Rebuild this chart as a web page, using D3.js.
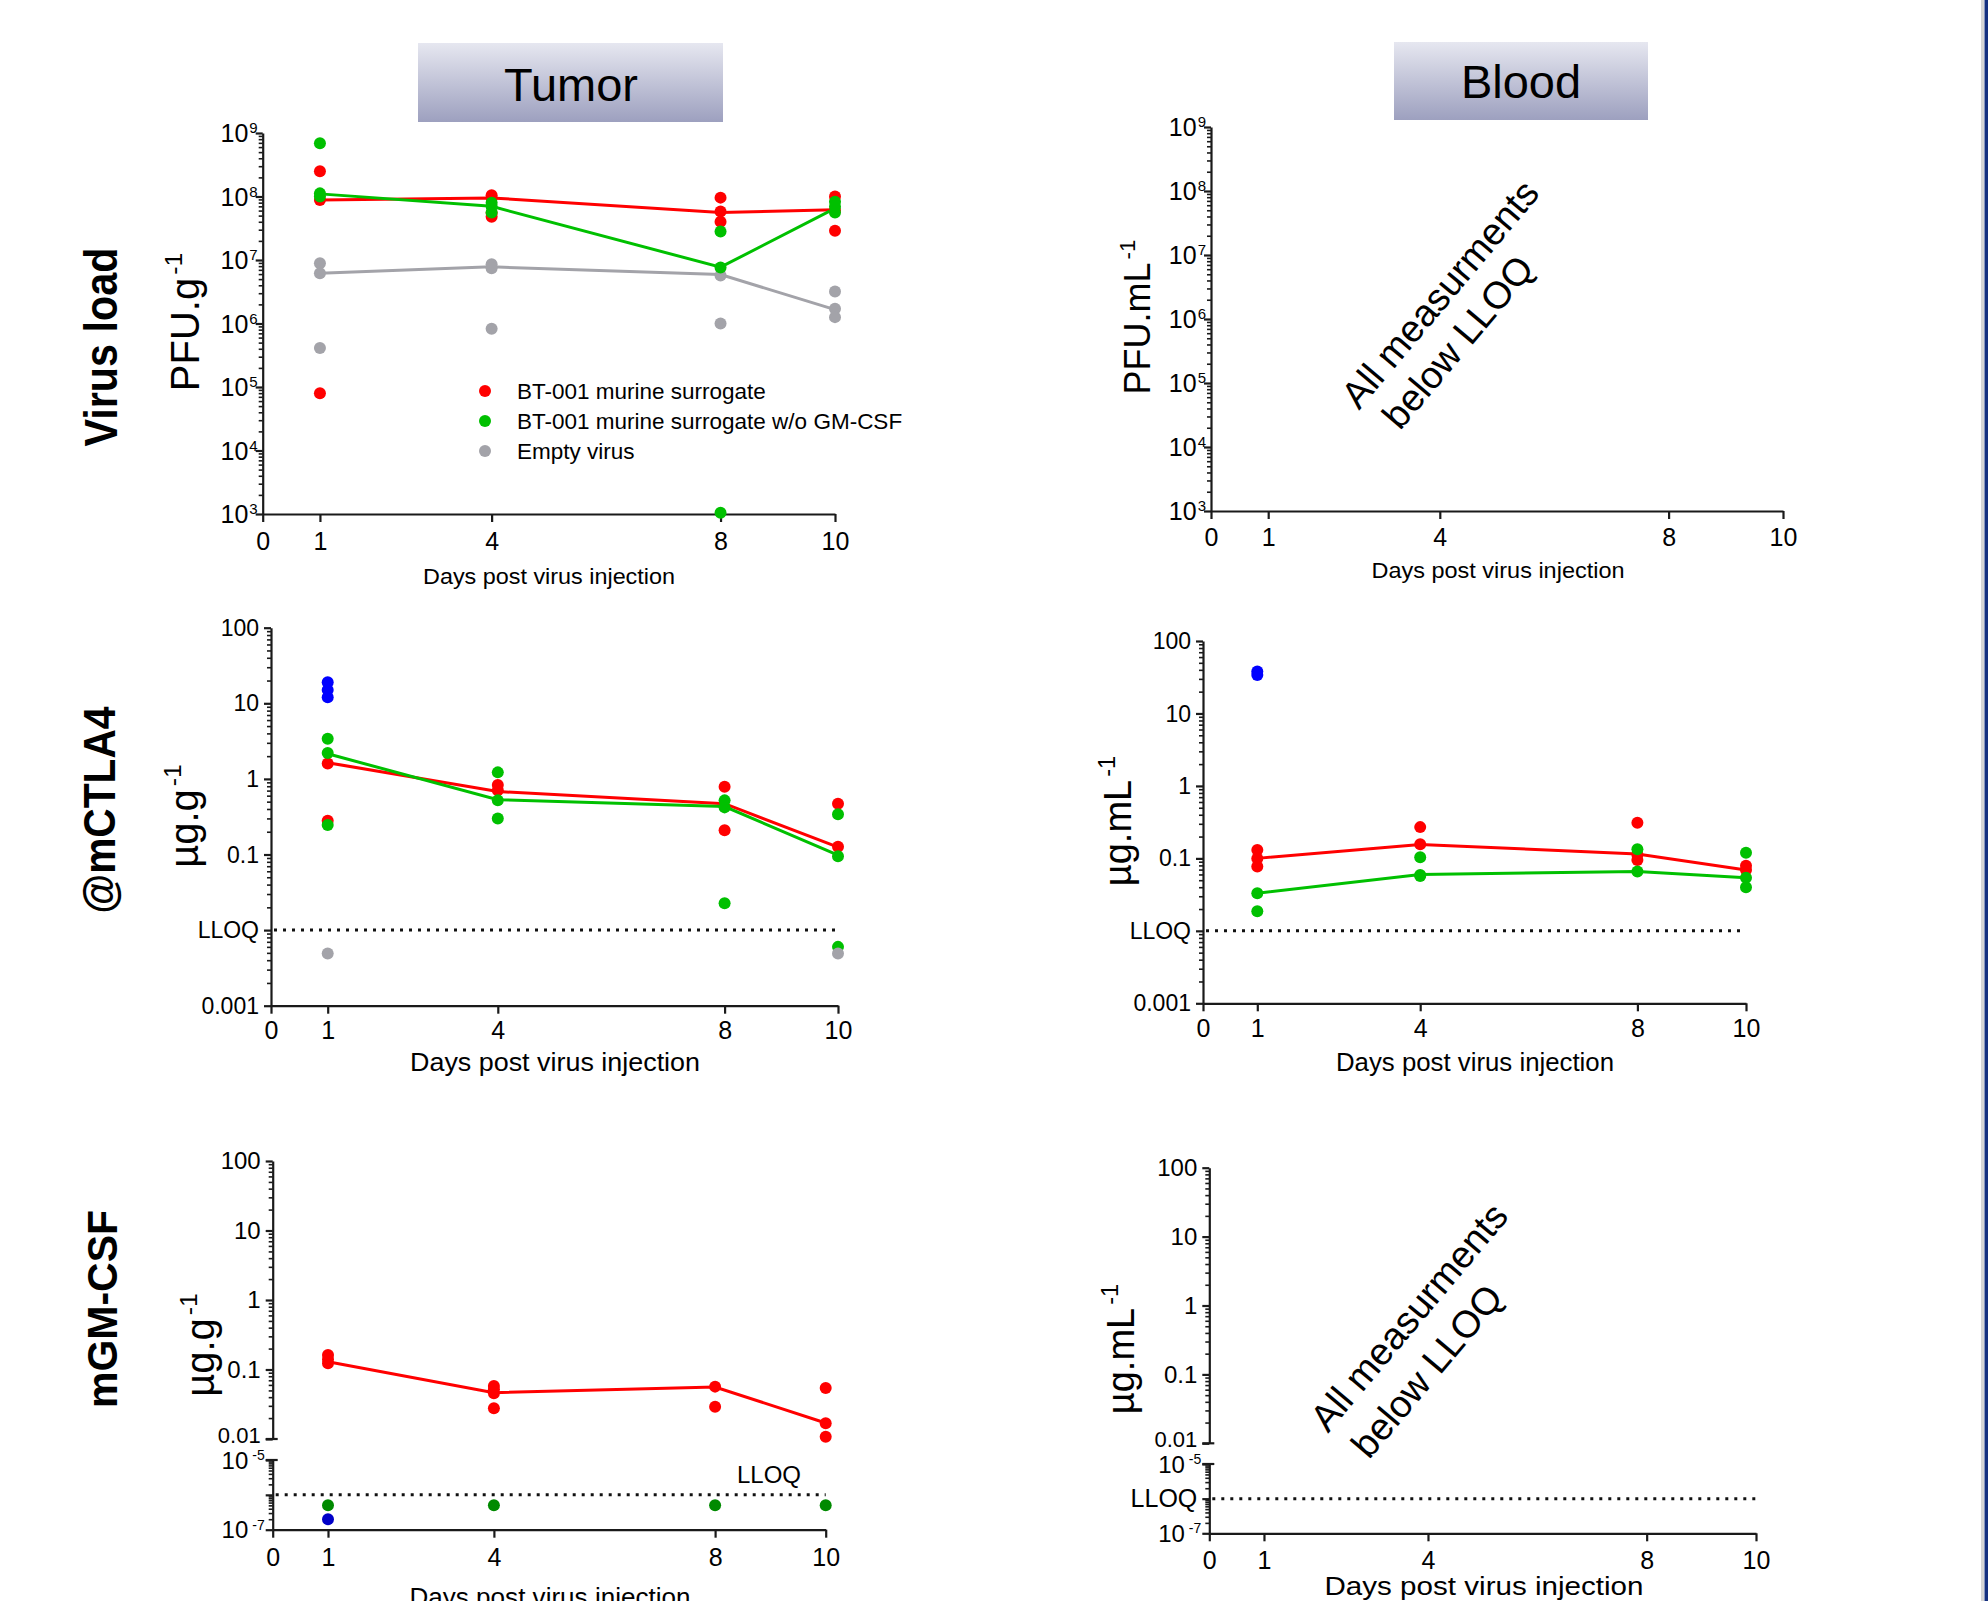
<!DOCTYPE html>
<html>
<head>
<meta charset="utf-8" />
<title>BT-001 murine surrogate - tumor and blood</title>
<style>
    html, body {
        margin: 0;
        padding: 0;
        background: #fff;
    }
    svg {
        display: block;
        font-family: Arial, "Liberation Sans", sans-serif;
    }
</style>
</head>
<body>
<svg width="1988" height="1601"></svg>
<script src="https://d3js.org/d3.v7.min.js"></script>
<script>
// ---- data ----
var days = [1, 4, 8, 10];
var dayTicks = [0, 1, 4, 8, 10];

// virus load, tumor (PFU/g); one array of replicates per day
var tvRed = [[2.5e8, 8.8e7, 8e4], [1.05e8, 9.5e7, 5.5e7, 4.8e7], [9.6e7, 5.8e7, 4e7], [1e8, 6e7, 2.9e7]];
var tvRedLine = [8.8e7, 9.5e7, 5.6e7, 6.2e7];
var tvGreen = [[6.9e8, 1.12e8, 1e8], [8e7, 7e7, 5.6e7], [2.8e7, 7.6e6, 1.05e3], [8.3e7, 6.9e7, 5.6e7]];
var tvGreenLine = [1.1e8, 7e7, 7.7e6, 6.5e7];
var tvGrey = [[8.9e6, 6.2e6, 4.1e5], [8.6e6, 7.4e6, 8.3e5], [5.7e6, 1e6], [3.2e6, 1.7e6, 1.26e6]];
var tvGreyLine = [6.2e6, 7.8e6, 5.9e6, 1.65e6];

// @mCTLA4, tumor (ug/g)
var tcBlue = [[19, 15, 12], [], [], []];
var tcRed = [[1.6, 0.28], [0.83, 0.71], [0.79, 0.21], [0.47, 0.127]];
var tcRedLine = [1.64, 0.68, 0.47, 0.125];
var tcGreen = [[3.4, 2.2, 0.245], [1.22, 0.52, 0.3], [0.52, 0.42, 0.0226], [0.34, 0.095, 0.006]];
var tcGreenLine = [2.15, 0.53, 0.43, 0.098];
var tcGrey = [[0.0049], [], [], [0.0049]];

// @mCTLA4, blood (ug/mL)
var bcBlue = [[38, 34], [], [], []];
var bcRed = [[0.131, 0.1, 0.077], [0.27, 0.157], [0.31, 0.112, 0.095], [0.079, 0.069]];
var bcRedLine = [0.1, 0.156, 0.115, 0.069];
var bcGreen = [[0.033, 0.0186], [0.104, 0.059, 0.057], [0.134, 0.066], [0.12, 0.054, 0.04]];
var bcGreenLine = [0.033, 0.06, 0.066, 0.054];

// mGM-CSF, tumor (ug/g)
var tgRed = [[0.162, 0.14, 0.123], [0.058, 0.052, 0.0455, 0.0277], [0.0567, 0.029], [0.054, 0.0168, 0.0108]];
var tgRedLine = [0.129, 0.0464, 0.056, 0.017];
var tgDarkGreen = [[5e-7], [5e-7], [5e-7], [5e-7]];
var tgBlue = [[2e-7], [], [], []];

var lloq = 0.01;
var lloqGm = 1e-6;

// tick labels
var virusExp = [3, 4, 5, 6, 7, 8, 9];
var ctlaTickVals = [100, 10, 1, 0.1, 0.01, 0.001];
var ctlaTickText = ["100", "10", "1", "0.1", "LLOQ", "0.001"];
var gmTickVals = [100, 10, 1, 0.1, 0.01];
var gmTickText = ["100", "10", "1", "0.1", "0.01"];
var gmLowExp = [-5, -7];

var legendNames = ["BT-001 murine surrogate", "BT-001 murine surrogate w/o GM-CSF", "Empty virus"];

var RED = "#ff0000", GREEN = "#00c000", GREY = "#a3a3a9", BLUE = "#0000ff",
    DKGREEN = "#008a00", DKBLUE = "#0000c8", AX = "#1a1a1a";

var svg = d3.select("svg");

var defs = svg.append("defs");
var grad = defs.append("linearGradient").attr("id", "hdr")
    .attr("x1", 0).attr("y1", 0).attr("x2", 0).attr("y2", 1);
grad.append("stop").attr("offset", "0%").attr("stop-color", "#e6e7f0");
grad.append("stop").attr("offset", "100%").attr("stop-color", "#9da0bf");

// header boxes
[["Tumor", 418, 43, 305, 79, 571, 101], ["Blood", 1394, 42, 254, 78, 1521, 98]].forEach(function (h) {
    svg.append("rect").attr("x", h[1]).attr("y", h[2]).attr("width", h[3]).attr("height", h[4])
        .attr("fill", "url(#hdr)");
    svg.append("text").attr("x", h[5]).attr("y", h[6]).attr("text-anchor", "middle")
        .attr("font-size", 47).attr("fill", "#000").text(h[0]);
});

// right edge bar
svg.append("rect").attr("x", 1981).attr("y", 0).attr("width", 3).attr("height", 1601).attr("fill", "#d6d6d6");
svg.append("rect").attr("x", 1984.5).attr("y", 0).attr("width", 3.5).attr("height", 1601).attr("fill", "#15307f");

// row labels
[["Virus load", 117, 347, 47, 199], ["@mCTLA4", 115, 810, 44, 207], ["mGM-CSF", 117, 1309, 42, 198]].forEach(function (r) {
    svg.append("text").attr("transform", "translate(" + r[1] + "," + r[2] + ") rotate(-90)")
        .attr("text-anchor", "middle").attr("font-weight", "bold").attr("font-size", r[3])
        .attr("textLength", r[4]).attr("lengthAdjust", "spacingAndGlyphs").text(r[0]);
});

function styleAxis(a) {
    a.selectAll("path, line").attr("stroke", AX).attr("stroke-width", 2.2);
    a.selectAll("text").attr("fill", "#000").attr("font-family", null);
}

function yAxisLog(g, scale, ax, lo, hi) {
    var e0 = Math.round(Math.log10(lo)), e1 = Math.round(Math.log10(hi));
    var majors = d3.range(e0, e1 + 1).map(function (e) { return Math.pow(10, e); });
    var minors = [];
    majors.slice(0, -1).forEach(function (m) {
        for (var k = 2; k < 10; k++) minors.push(m * k);
    });
    var a1 = g.append("g").attr("transform", "translate(" + ax + ",0)")
        .call(d3.axisLeft(scale).tickValues(majors).tickSize(7).tickSizeOuter(0).tickFormat(""));
    styleAxis(a1);
    var a2 = g.append("g").attr("transform", "translate(" + ax + ",0)")
        .call(d3.axisLeft(scale).tickValues(minors).tickSize(4).tickFormat(""));
    a2.select(".domain").remove();
    styleAxis(a2);
    a2.selectAll("line").attr("stroke-width", 1.6);
}

function powLabel(g, ax, yy, exp, big, small) {
    var t = g.append("text").attr("x", ax - 5).attr("y", yy + big * 0.36)
        .attr("text-anchor", "end").attr("font-size", big);
    t.append("tspan").text("10");
    t.append("tspan").attr("font-size", small).attr("dx", exp < 0 ? 4 : 1)
        .attr("dy", -big * 0.36).text(exp < 0 ? "-" + (-exp) : String(exp));
}

function flat(arr) {
    var out = [];
    arr.forEach(function (vals, i) {
        vals.forEach(function (v) { out.push({ d: days[i], v: v }); });
    });
    return out;
}

function drawPanel(p) {
    var g = svg.append("g");
    var x = d3.scaleLinear().domain([0, 10]).range([p.x0, p.x1]);
    var y;

    if (p.kind === "broken") {
        var up = d3.scaleLog().domain([0.01, 100]).range([p.yMid1, p.yTop]);
        var lo = d3.scaleLog().domain([1e-7, 1e-5]).range([p.yBot, p.yMid2]);
        y = function (v) { return v >= 0.01 ? up(v) : lo(v); };
        yAxisLog(g, up, p.x0, 0.01, 100);
        yAxisLog(g, lo, p.x0, 1e-7, 1e-5);
        // break marks
        [p.yMid1, p.yMid2].forEach(function (yy) {
            g.append("line").attr("x1", p.x0 - 7).attr("x2", p.x0 + 5).attr("y1", yy).attr("y2", yy)
                .attr("stroke", AX).attr("stroke-width", 2.2);
        });
        gmTickVals.forEach(function (v, i) {
            // lowest label sits just above the break, as in the source
            var shift = v === 0.01 ? -4 : 0;
            g.append("text").attr("x", p.x0 - 12).attr("y", up(v) + shift).attr("dy", "0.35em")
                .attr("text-anchor", "end").attr("font-size", v === 0.01 ? 22 : 24).text(gmTickText[i]);
        });
        gmLowExp.forEach(function (e) {
            powLabel(g, p.x0 - 3, lo(Math.pow(10, e)), e, 24, 14);
        });
        if (p.lloqTick) {
            g.append("text").attr("x", p.x0 - 12).attr("y", lo(lloqGm)).attr("dy", "0.35em")
                .attr("text-anchor", "end").attr("font-size", 25).text("LLOQ");
        }
    } else {
        y = d3.scaleLog().domain([p.min, p.max]).range([p.yBot, p.yTop]);
        yAxisLog(g, y, p.x0, p.min, p.max);
        if (p.kind === "pow") {
            virusExp.forEach(function (e) { powLabel(g, p.x0, y(Math.pow(10, e)), e, 25, 15); });
        } else {
            ctlaTickVals.forEach(function (v, i) {
                g.append("text").attr("x", p.x0 - 12).attr("y", y(v)).attr("dy", "0.35em")
                    .attr("text-anchor", "end").attr("font-size", 23).text(ctlaTickText[i]);
            });
        }
    }

    // x axis
    var xa = g.append("g").attr("transform", "translate(0," + p.yBot + ")")
        .call(d3.axisBottom(x).tickValues(dayTicks).tickSize(8).tickSizeOuter(0).tickFormat(d3.format("d")));
    styleAxis(xa);
    xa.selectAll("text").attr("font-size", 25).attr("y", p.xLabY - p.yBot).attr("dy", "0.35em");

    g.append("text").attr("x", p.titleX).attr("y", p.titleY).attr("text-anchor", "middle")
        .attr("font-size", p.titleSize).attr("textLength", p.titleLen).attr("lengthAdjust", "spacingAndGlyphs")
        .text("Days post virus injection");

    // unit label
    var u = g.append("text").attr("transform", "translate(" + p.unitX + "," + p.unitY + ") rotate(-90)")
        .attr("text-anchor", "middle").attr("font-size", p.unitSize);
    u.append("tspan").text(p.unit);
    u.append("tspan").attr("font-size", p.unitSize * 0.62).attr("dy", -p.unitSize * 0.42).attr("dx", 3).text("-1");

    // LLOQ line
    if (p.lloq) {
        g.append("line").attr("x1", p.x0 + 3).attr("x2", p.x1).attr("y1", y(p.lloq)).attr("y2", y(p.lloq))
            .attr("stroke", "#111").attr("stroke-width", 3).attr("stroke-dasharray", "3,6");
    }

    var line = d3.line().x(function (d, i) { return x(days[i]); }).y(function (d) { return y(d); });
    (p.lines || []).forEach(function (s) {
        g.append("path").datum(s.values).attr("d", line).attr("fill", "none")
            .attr("stroke", s.color).attr("stroke-width", 3);
    });
    (p.points || []).forEach(function (s) {
        g.append("g").selectAll("circle").data(flat(s.values)).enter().append("circle")
            .attr("cx", function (d) { return x(d.d); })
            .attr("cy", function (d) { return y(d.v); })
            .attr("r", 6).attr("fill", s.color);
    });

    if (p.note) {
        p.note.forEach(function (n) {
            g.append("text").attr("transform", "translate(" + n[1] + "," + n[2] + ") rotate(-50)")
                .attr("text-anchor", "middle").attr("dominant-baseline", "central")
                .attr("font-size", 38).text(n[0]);
        });
    }
    return { g: g, x: x, y: y };
}

var p1 = drawPanel({
    kind: "pow", min: 1e3, max: 1e9, x0: 262.7, x1: 835, yTop: 133, yBot: 514,
    xLabY: 541, titleX: 549, titleY: 584, titleSize: 22, titleLen: 252,
    unit: "PFU.g", unitSize: 40, unitX: 199, unitY: 322,
    lines: [{ values: tvGreyLine, color: GREY }, { values: tvRedLine, color: RED }, { values: tvGreenLine, color: GREEN }],
    points: [{ values: tvGrey, color: GREY }, { values: tvRed, color: RED }, { values: tvGreen, color: GREEN }]
});

// legend
var legColors = [RED, GREEN, GREY];
legendNames.forEach(function (name, i) {
    var ly = 391 + i * 30;
    p1.g.append("circle").attr("cx", 485).attr("cy", ly).attr("r", 6).attr("fill", legColors[i]);
    p1.g.append("text").attr("x", 517).attr("y", ly + 7.5).attr("font-size", 22.5).text(name);
});

drawPanel({
    kind: "pow", min: 1e3, max: 1e9, x0: 1211, x1: 1783, yTop: 127, yBot: 511,
    xLabY: 537, titleX: 1498, titleY: 578, titleSize: 22, titleLen: 253,
    unit: "PFU.mL", unitSize: 36, unitX: 1150, unitY: 317,
    note: [["All measurments", 1440, 294], ["below LLOQ", 1458, 342]]
});

drawPanel({
    kind: "lin", min: 0.001, max: 100, x0: 271, x1: 838, yTop: 627.7, yBot: 1005.7,
    xLabY: 1030, titleX: 555, titleY: 1071, titleSize: 26, titleLen: 290,
    unit: "\u00b5g.g", unitSize: 40, unitX: 198, unitY: 816, lloq: lloq,
    lines: [{ values: tcRedLine, color: RED }, { values: tcGreenLine, color: GREEN }],
    points: [{ values: tcRed, color: RED }, { values: tcGreen, color: GREEN },
             { values: tcGrey, color: GREY }, { values: tcBlue, color: BLUE }]
});

drawPanel({
    kind: "lin", min: 0.001, max: 100, x0: 1203, x1: 1746, yTop: 641, yBot: 1003.3,
    xLabY: 1028, titleX: 1475, titleY: 1071, titleSize: 25, titleLen: 278,
    unit: "\u00b5g.mL", unitSize: 38, unitX: 1131, unitY: 821, lloq: lloq,
    lines: [{ values: bcRedLine, color: RED }, { values: bcGreenLine, color: GREEN }],
    points: [{ values: bcRed, color: RED }, { values: bcGreen, color: GREEN }, { values: bcBlue, color: BLUE }]
});

var p5 = drawPanel({
    kind: "broken", x0: 272.7, x1: 825.7, yTop: 1161, yMid1: 1439, yMid2: 1460, yBot: 1529.7,
    xLabY: 1557, titleX: 550, titleY: 1606, titleSize: 26, titleLen: 281,
    unit: "\u00b5g.g", unitSize: 40, unitX: 214, unitY: 1345, lloq: lloqGm,
    lines: [{ values: tgRedLine, color: RED }],
    points: [{ values: tgRed, color: RED }, { values: tgDarkGreen, color: DKGREEN }, { values: tgBlue, color: DKBLUE }]
});
p5.g.append("text").attr("x", 769).attr("y", 1483).attr("text-anchor", "middle")
    .attr("font-size", 24).text("LLOQ");

drawPanel({
    kind: "broken", lloqTick: true, x0: 1209.3, x1: 1756, yTop: 1167.7, yMid1: 1443.3, yMid2: 1464, yBot: 1533.3,
    xLabY: 1560, titleX: 1484, titleY: 1595, titleSize: 26, titleLen: 319,
    unit: "\u00b5g.mL", unitSize: 38, unitX: 1134, unitY: 1349, lloq: lloqGm,
    note: [["All measurments", 1409, 1317], ["below LLOQ", 1427, 1371]]
});
</script>
</body>
</html>
